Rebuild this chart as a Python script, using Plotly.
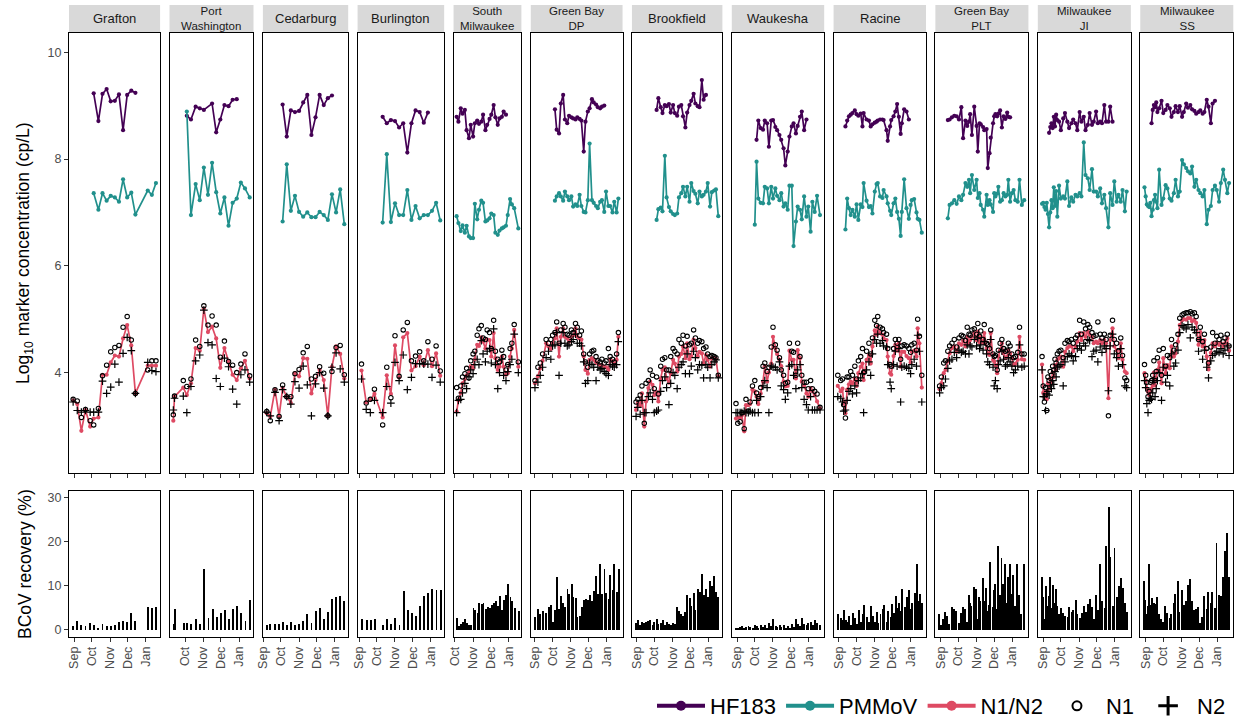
import pandas as pd
import plotly.graph_objects as go

# ---------------- data (days since 2020-09-01) ----------------
GRAFTON_DAY = [-2, 5, 12, 19, 27, 33, 41, 48, 55, 62, 69, 76, 83, 90, 97, 104, 125, 132, 139]
GRAFTON_N1N2 = [3.48, 3.41, 2.91, 3.30, 2.99, 3.14, 3.16, 3.96, 3.96, 4.19, 4.32, 4.30, 4.64, 4.89, 4.51, 3.61, 4.13, 4.13, 4.13]
GRAFTON_N1 = [3.50, 3.47, 3.16, 3.31, 3.10, 3.02, 3.33, 3.94, 4.14, 4.39, 4.47, 4.51, 4.85, 5.05, 4.61, 3.61, 4.05, 4.22, 4.22]
GRAFTON_N2 = [3.45, 3.29, 3.26, 3.29, 3.26, 3.26, 3.26, 3.84, 3.61, 3.73, 4.16, 3.82, 4.36, 4.66, 4.41, 3.61, 4.19, 4.04, 4.02]
GRAFTON_HF183 = [None, None, None, None, None, 9.23, 8.71, 9.22, 9.31, 9.08, 9.09, 9.21, 8.54, 9.20, 9.28, 9.24, None, None, None]
GRAFTON_PMMOV = [None, None, None, None, None, 7.36, 7.05, 7.36, 7.22, 7.31, 7.28, 7.20, 7.62, 7.28, 7.37, 6.96, 7.41, 7.33, 7.55]
GRAFTON_BCOV = [0.8, 2.0, 1.0, 0.9, 1.5, 1.1, 0.5, 1.3, 0.9, 0.9, 1.0, 1.7, 2.0, 1.7, 3.9, 2.0, 5.1, 4.9, 5.2]

PORTW_DAY = [10, 12, 27, 33, 40, 48, 55, 62, 69, 76, 83, 90, 97, 104, 111, 118, 125, 132, 140]
PORTW_N1N2 = [3.10, 3.55, 3.72, 3.58, 3.80, 4.46, 4.41, 5.20, 4.76, 4.86, 4.64, 4.09, 4.46, 4.21, 3.96, 3.86, 4.08, 4.22, 3.89]
PORTW_N1 = [3.21, 3.56, 3.85, 3.74, 3.88, 4.61, 4.49, 5.25, 4.89, 5.06, 4.89, 4.29, 4.59, 4.21, 4.14, 4.00, 4.16, 4.35, 3.94]
PORTW_N2 = [3.30, 3.52, 3.56, 3.25, 3.74, 4.22, 4.33, 5.17, 4.56, 4.52, 3.89, 3.74, 4.27, 4.11, 3.69, 3.41, 3.96, 4.05, 3.82]
PORTW_HF183 = [None, None, None, 8.81, 8.74, 8.98, 8.95, 8.92, None, 9.04, 8.50, 8.74, 9.01, 8.99, 9.11, 9.12, None, None, None]
PORTW_PMMOV = [None, None, None, 8.89, 6.95, 7.53, 7.23, 7.84, 7.33, 7.93, 7.38, 6.98, 7.28, 6.75, 7.18, 7.26, 7.56, 7.45, 7.28]
PORTW_BCOV = [1.4, 4.7, 1.6, 1.6, 1.4, 2.4, 1.4, 13.9, 2.7, 4.8, 3.0, 3.9, 4.6, 2.5, 4.8, 5.4, 3.9, 2.0, 6.7]

CEDAR_DAY = [6, 12, 20, 27, 33, 40, 47, 54, 61, 68, 75, 82, 89, 96, 103, 110, 117, 124, 131, 138]
CEDAR_N1N2 = [3.24, 3.18, 3.68, 3.18, 3.71, 3.55, 3.43, 3.99, 3.93, 4.27, 4.26, 3.61, 3.86, 4.05, 3.86, 3.19, 4.11, 4.49, 4.35, 3.89]
CEDAR_N1 = [3.27, 3.10, 3.68, 3.18, 3.77, 3.55, 3.55, 3.98, 4.06, 4.37, 4.49, 3.88, 3.93, 4.11, 3.99, 3.19, 4.02, 4.47, 4.51, 3.96]
CEDAR_N2 = [3.26, 3.19, 3.63, 3.10, 3.68, 3.55, 3.41, 3.83, 3.71, 4.12, 3.77, 3.19, 3.79, 4.00, 3.71, 3.19, 4.10, 4.37, 4.07, 3.82]
CEDAR_HF183 = [None, None, None, None, 9.02, 8.42, 8.91, 8.88, 8.90, 9.06, 9.20, 8.45, 8.78, 9.20, 9.01, 9.14, 9.19, None, None, None]
CEDAR_PMMOV = [None, None, None, None, 6.83, 7.90, 7.03, 7.31, 7.01, 6.92, 7.00, 6.91, 6.91, 7.01, 6.95, 6.86, 7.34, 7.00, 7.43, 6.78]
CEDAR_BCOV = [1.1, 1.3, 1.3, 1.3, 1.7, 1.1, 1.8, 1.1, 1.3, 2.0, 3.6, 1.5, 4.3, 4.9, 2.5, 4.0, 7.0, 7.5, 7.7, 6.6]

BURL_DAY = [4, 12, 19, 26, 40, 47, 54, 61, 68, 75, 82, 89, 96, 103, 110, 117, 124, 131, 138]
BURL_N1N2 = [4.04, 3.44, 3.49, 3.60, 3.16, 3.95, 3.60, 4.51, 3.91, 4.66, 4.74, 4.04, 4.12, 4.30, 4.14, 4.42, 4.12, 4.36, 3.94]
BURL_N1 = [4.16, 3.43, 3.50, 3.69, 3.02, 4.10, 3.53, 4.69, 3.93, 4.80, 4.94, 4.22, 4.31, 4.39, 4.22, 4.58, 4.25, 4.50, 4.03]
BURL_N2 = [3.88, 3.31, 3.25, 3.48, 3.25, 3.74, 3.43, 4.19, 3.85, 4.33, 3.68, 3.91, 4.17, 4.17, 4.16, 4.16, 3.91, 4.14, 3.82]
BURL_HF183 = [None, None, None, None, 8.79, 8.67, 8.73, 8.71, 8.59, 8.67, 8.12, 8.67, 8.91, 8.88, 8.68, 8.87, None, None, None]
BURL_PMMOV = [None, None, None, None, 6.81, 8.09, 6.82, 7.17, 6.95, 6.95, 7.42, 6.86, 7.12, 6.89, 6.95, 6.95, 7.03, 7.18, 6.85]
BURL_BCOV = [2.5, 2.2, 2.2, 2.5, 1.0, 2.5, 1.3, 2.7, 1.1, 8.9, 4.5, 3.9, 3.2, 5.5, 7.7, 8.3, 9.3, 9.0, 9.1]

SMKE_DAY = [33, 36, 40, 43, 47, 50, 54, 57, 61, 64, 68, 71, 75, 78, 82, 85, 89, 92, 96, 99, 103, 106, 110, 113, 117, 120, 124, 127, 131, 138]
SMKE_N1N2 = [3.27, 3.48, 3.62, 3.80, 3.88, 3.95, 4.00, 4.12, 4.08, 4.25, 4.52, 4.50, 4.66, 4.58, 4.45, 4.62, 4.61, 4.30, 4.74, 4.27, 4.05, 4.11, 4.30, 4.11, 3.96, 3.99, 4.30, 4.45, 4.80, 4.11]
SMKE_N1 = [3.72, 3.52, 3.75, 3.92, 3.98, 4.08, 3.90, 4.22, 4.35, 4.40, 4.70, 4.82, 4.88, 4.65, 4.62, 4.80, 4.75, 4.45, 4.98, 4.40, 4.25, 4.20, 4.42, 4.30, 4.05, 4.15, 4.45, 4.55, 4.90, 4.20]
SMKE_N2 = [3.25, 3.48, 3.50, 3.62, 3.80, 3.70, 3.92, 4.05, 3.98, 4.15, 4.25, 4.15, 4.60, 4.35, 4.20, 4.40, 4.45, 4.18, 4.82, 4.15, 3.70, 4.00, 4.25, 3.95, 3.85, 4.02, 4.15, 4.25, 4.72, 4.00]
SMKE_HF183 = [8.79, 8.70, 8.95, 8.85, 8.92, 8.54, 8.39, 8.64, 8.42, 8.67, 8.72, 8.66, 8.70, 8.83, 8.54, 8.64, 8.75, 8.83, 9.01, 8.78, 8.64, 8.76, 8.79, 8.89, 8.83, None, None, None, None, None]
SMKE_PMMOV = [6.93, 6.80, 6.65, 6.76, 6.62, 6.75, 6.55, 6.52, 6.52, 7.16, 6.87, 7.05, 7.22, 7.18, 6.83, 6.85, 6.89, 6.98, 6.95, 6.62, 6.58, 6.66, 6.70, 6.72, 6.75, 6.95, 7.25, 7.15, 7.08, 6.70]
SMKE_BCOV = [2.7, 0.8, 1.3, 1.9, 2.5, 1.5, 1.2, 1.0, 4.9, 4.5, 3.8, 6.0, 5.8, 6.0, 4.8, 5.2, 5.0, 5.6, 6.0, 6.6, 5.5, 7.7, 4.5, 6.8, 8.0, 10.3, 7.5, 6.6, 5.0, 4.2]

GBDP_DAY = [0, 5, 9, 13, 19, 23, 27, 30, 34, 37, 41, 44, 48, 51, 55, 58, 62, 65, 69, 72, 76, 79, 83, 86, 90, 93, 97, 100, 104, 107, 111, 114, 118, 121, 125, 128, 132, 135, 139, 142]
GBDP_N1N2 = [3.80, 3.93, 4.08, 4.22, 4.55, 4.49, 4.44, 4.55, 4.64, 4.83, 4.30, 4.67, 4.83, 4.67, 4.64, 4.58, 4.67, 4.70, 4.83, 4.67, 4.64, 4.62, 4.30, 4.05, 3.98, 4.24, 4.27, 4.24, 4.19, 4.17, 4.14, 4.14, 4.11, 4.10, 4.05, 4.25, 4.21, 4.16, 4.24, 4.67]
GBDP_N1 = [3.85, 4.10, 4.18, 4.35, 4.62, 4.55, 4.62, 4.70, 4.75, 4.95, 4.55, 4.80, 4.92, 4.85, 4.72, 4.70, 4.80, 4.75, 4.92, 4.85, 4.70, 4.78, 4.35, 4.20, 4.10, 4.35, 4.40, 4.42, 4.30, 4.22, 4.20, 4.25, 4.18, 4.22, 4.45, 4.30, 4.25, 4.20, 4.35, 4.75]
GBDP_N2 = [3.72, 3.82, 3.95, 4.10, 4.28, 4.40, 4.25, 4.50, 4.52, 4.75, 3.95, 4.55, 4.75, 4.55, 4.50, 4.52, 4.58, 4.62, 4.72, 4.55, 4.55, 4.50, 4.20, 3.80, 3.85, 4.18, 4.15, 4.10, 3.85, 4.10, 4.05, 4.08, 4.02, 3.98, 3.95, 4.15, 4.12, 4.10, 4.15, 4.58]
GBDP_HF183 = [None, None, None, None, None, None, None, None, 8.93, 8.55, 8.48, 9.04, 9.20, 8.74, 8.67, 8.81, 8.78, 8.76, 8.74, 8.78, 8.75, 8.72, 8.14, 8.70, 8.89, 8.95, 9.12, 9.06, 9.02, 8.97, 8.95, 8.98, 9.00, None, None, None, None, None, None, None]
GBDP_PMMOV = [None, None, None, None, None, None, None, None, 7.22, 7.30, 7.36, 7.30, 7.22, 7.39, 7.30, 7.23, 7.30, 7.11, 7.15, 7.12, 7.33, 7.12, 7.01, 7.00, 7.23, 8.29, 7.23, 7.18, 7.12, 7.08, 7.20, 7.23, 7.01, 7.39, 7.12, 7.12, 7.00, 7.20, 7.00, 7.26]
GBDP_BCOV = [3.0, 4.8, 3.6, 4.3, 3.8, 5.3, 5.6, 1.8, 4.6, 12.0, 4.8, 7.6, 6.2, 5.2, 9.3, 8.2, 10.5, 7.4, 7.2, 3.0, 3.2, 5.2, 6.8, 7.0, 6.8, 8.0, 6.6, 8.8, 12.3, 8.2, 15.0, 8.2, 13.8, 8.4, 7.0, 12.5, 9.0, 15.0, 8.5, 13.8]

BROOK_DAY = [-1, 2, 6, 9, 13, 16, 20, 23, 27, 30, 34, 37, 41, 44, 48, 51, 55, 58, 62, 65, 69, 72, 76, 79, 83, 86, 90, 93, 97, 100, 104, 107, 111, 114, 118, 121, 125, 128, 132, 135, 139]
BROOK_N1N2 = [3.30, 3.43, 3.39, 3.61, 2.99, 3.46, 3.71, 3.83, 3.77, 3.58, 3.63, 3.46, 3.89, 4.05, 4.10, 3.89, 3.81, 3.99, 4.24, 4.17, 4.02, 4.30, 4.35, 4.49, 4.27, 4.55, 4.25, 4.31, 4.62, 4.46, 4.30, 4.39, 4.36, 4.17, 4.33, 4.24, 4.11, 4.27, 4.27, 4.26, 3.93]
BROOK_N1 = [3.45, 3.50, 3.58, 3.75, 3.05, 3.80, 3.85, 4.05, 3.95, 3.70, 3.92, 3.60, 4.12, 4.25, 4.28, 4.05, 4.05, 4.30, 4.45, 4.40, 4.35, 4.62, 4.55, 4.70, 4.50, 4.68, 4.52, 4.55, 4.80, 4.65, 4.55, 4.60, 4.58, 4.45, 4.48, 4.35, 4.30, 4.32, 4.30, 4.28, 3.95]
BROOK_N2 = [3.18, 3.35, 3.22, 3.48, 3.25, 3.25, 3.55, 3.62, 3.50, 3.25, 3.28, 3.30, 3.65, 3.85, 3.92, 3.72, 3.40, 3.80, 4.00, 3.95, 3.70, 4.10, 4.15, 4.20, 3.98, 4.35, 3.98, 4.12, 4.40, 4.28, 4.05, 4.15, 4.14, 3.90, 4.15, 4.10, 3.90, 4.15, 4.20, 4.24, 3.90]
BROOK_HF183 = [None, None, None, None, None, None, None, None, None, None, 8.92, 9.14, 8.97, 8.86, 9.01, 8.99, 9.03, 8.87, 9.01, 8.86, 8.81, 8.98, 9.01, 8.80, 8.59, 8.87, 9.01, 9.09, 9.22, 9.04, 8.99, 8.97, 9.48, 9.11, 9.20, None, None, None, None, None, None]
BROOK_PMMOV = [None, None, None, None, None, None, None, None, None, None, 6.86, 7.06, 7.09, 7.02, 8.06, 7.28, 7.10, 7.02, 6.97, 6.95, 6.98, 7.28, 7.36, 7.48, 7.30, 7.48, 7.20, 7.55, 7.40, 7.35, 7.17, 7.39, 7.30, 7.33, 7.39, 7.55, 7.11, 7.38, 7.41, 7.43, 6.93]
BROOK_BCOV = [1.5, 2.2, 1.2, 1.8, 1.5, 1.7, 2.0, 2.3, 1.0, 1.9, 2.5, 1.3, 1.6, 2.2, 1.2, 1.7, 1.4, 1.2, 1.6, 1.3, 5.2, 4.2, 3.6, 3.2, 4.0, 8.0, 7.2, 5.4, 8.3, 4.6, 9.2, 8.6, 12.6, 8.0, 9.2, 7.5, 11.0, 10.0, 12.3, 8.5, 7.5]

WAUK_DAY = [-2, 1, 5, 8, 12, 15, 19, 22, 26, 30, 33, 36, 40, 44, 47, 51, 54, 58, 61, 65, 68, 72, 75, 79, 82, 86, 89, 93, 96, 100, 103, 107, 110, 114, 118, 121, 125, 128, 132, 136, 141]
WAUK_N1N2 = [3.14, 3.16, 3.15, 3.20, 2.90, 3.39, 3.39, 3.41, 3.68, 3.65, 3.55, 3.41, 3.61, 3.83, 4.12, 3.83, 4.00, 4.17, 4.67, 4.46, 4.35, 4.24, 4.12, 3.83, 3.74, 3.75, 4.41, 4.24, 4.24, 3.89, 4.42, 4.27, 3.83, 3.75, 3.61, 3.55, 3.71, 3.65, 3.58, 3.46, 3.33]
WAUK_N1 = [3.42, 3.05, 3.08, 3.25, 2.95, 3.50, 3.28, 3.45, 3.75, 3.85, 3.62, 3.55, 3.72, 4.12, 4.18, 4.02, 4.10, 4.48, 4.85, 4.52, 4.42, 4.28, 4.05, 3.95, 3.80, 3.82, 4.55, 4.40, 4.38, 3.95, 4.55, 4.30, 3.95, 3.82, 3.82, 3.70, 3.85, 3.70, 3.65, 3.60, 3.35]
WAUK_N2 = [3.25, 3.25, 3.25, 3.25, 3.28, 3.25, 3.25, 3.28, 3.25, 3.25, 3.48, 3.25, 3.55, 3.75, 3.85, 3.72, 3.25, 4.12, 4.10, 4.10, 4.05, 4.20, 3.75, 3.68, 3.50, 3.62, 4.12, 4.15, 3.95, 3.70, 4.05, 4.15, 3.72, 3.50, 3.40, 3.30, 3.55, 3.30, 3.30, 3.30, 3.30]
WAUK_HF183 = [None, None, None, None, None, None, None, None, None, None, 8.36, 8.72, 8.58, 8.55, 8.72, 8.67, 8.23, 8.72, 8.73, 8.60, 8.54, 8.45, 8.36, 8.20, 7.88, 8.14, 8.42, 8.61, 8.67, 8.48, 8.62, 8.79, 8.89, 8.54, 8.74, None, None, None, None, None, None]
WAUK_PMMOV = [None, None, None, None, None, None, None, None, None, 6.77, 7.95, 7.26, 7.18, 7.17, 7.48, 7.45, 7.17, 7.48, 7.26, 7.45, 7.31, 7.23, 7.36, 7.11, 7.17, 7.05, 7.50, 7.50, 6.37, 6.83, 7.11, 7.05, 6.87, 7.30, 6.92, 7.11, 6.64, 7.20, 7.01, 7.31, 6.95]
WAUK_BCOV = [0.3, 0.5, 0.6, 0.8, 0.5, 0.7, 0.9, 0.6, 0.5, 1.0, 0.8, 0.4, 1.0, 0.7, 1.2, 0.4, 1.5, 0.8, 2.4, 0.9, 0.6, 1.0, 0.7, 1.2, 0.3, 0.8, 0.5, 1.4, 0.6, 2.4, 1.3, 0.8, 2.8, 1.3, 1.0, 1.5, 1.7, 1.0, 2.3, 1.6, 1.2]

RACINE_DAY = [-2, 3, 6, 8, 11, 14, 17, 20, 23, 27, 30, 33, 37, 40, 42, 47, 51, 54, 57, 61, 64, 66, 70, 74, 76, 81, 83, 87, 89, 93, 96, 99, 102, 105, 107, 111, 115, 119, 122, 124, 128, 132, 134, 137, 141]
RACINE_N1N2 = [3.75, 3.65, 3.70, 3.44, 3.24, 3.68, 3.78, 3.83, 3.80, 3.89, 3.75, 3.99, 4.11, 4.17, 3.86, 4.24, 4.33, 4.17, 4.49, 4.79, 4.71, 4.86, 4.74, 4.71, 4.64, 4.61, 4.30, 3.99, 3.96, 4.31, 4.52, 4.41, 4.55, 4.11, 4.39, 4.39, 4.31, 4.27, 4.19, 4.39, 4.41, 4.30, 4.83, 4.55, 3.72]
RACINE_N1 = [3.95, 3.85, 3.88, 3.40, 3.15, 3.92, 3.92, 4.02, 3.95, 4.12, 3.88, 4.22, 4.30, 4.45, 4.00, 4.40, 4.55, 4.35, 4.65, 4.98, 4.88, 5.05, 4.85, 4.82, 4.75, 4.72, 4.45, 4.15, 4.12, 4.45, 4.62, 4.55, 4.62, 4.25, 4.50, 4.52, 4.50, 4.45, 4.38, 4.52, 4.55, 4.42, 5.00, 4.68, 3.95]
RACINE_N2 = [3.55, 3.52, 3.45, 3.28, 3.30, 3.48, 3.65, 3.70, 3.60, 3.75, 3.62, 3.85, 3.90, 3.98, 3.25, 4.05, 4.20, 3.95, 4.35, 4.62, 4.55, 4.72, 4.55, 4.60, 4.50, 4.48, 4.15, 3.82, 3.70, 4.15, 4.40, 4.12, 4.45, 3.45, 4.10, 4.12, 4.10, 4.08, 3.98, 4.15, 4.25, 4.12, 4.70, 4.40, 3.45]
RACINE_HF183 = [None, None, None, None, 8.61, 8.72, 8.80, 8.83, 8.86, 8.91, 8.84, 8.81, 8.85, 8.61, 8.86, 8.74, 8.72, 8.61, 8.65, 8.68, 8.70, 8.72, 8.74, 8.74, 8.73, 8.54, 8.34, 8.61, 8.73, 8.80, 8.89, 9.03, 8.79, 8.47, 8.67, 8.93, 8.89, 8.74, None, None, None, None, None, None, None]
RACINE_PMMOV = [None, None, None, None, 6.68, 7.26, 7.08, 6.95, 7.05, 6.92, 7.15, 6.86, 7.15, 7.10, 7.55, 7.22, 7.10, 7.12, 6.98, 7.39, 7.53, 7.55, 7.30, 7.27, 7.42, 7.30, 7.17, 7.03, 6.95, 7.17, 7.26, 7.01, 6.88, 6.56, 7.01, 7.62, 7.08, 6.88, 7.14, 7.23, 7.25, 7.00, 6.88, 6.86, 6.62]
RACINE_BCOV = [3.6, 2.8, 2.2, 4.5, 2.3, 1.8, 3.2, 1.2, 3.9, 2.6, 1.4, 4.4, 1.8, 3.5, 5.7, 3.0, 1.9, 5.5, 3.2, 1.8, 4.0, 1.5, 3.5, 4.8, 5.6, 1.7, 4.3, 3.0, 5.9, 3.8, 7.7, 5.0, 6.0, 4.2, 9.2, 5.3, 7.5, 9.0, 4.8, 6.1, 8.3, 15.0, 6.5, 8.2, 6.0]

GBPLT_DAY = [-2, 1, 5, 8, 12, 15, 19, 23, 27, 31, 35, 38, 42, 45, 48, 50, 53, 57, 61, 63, 66, 68, 72, 74, 78, 80, 83, 85, 89, 91, 93, 96, 98, 101, 104, 107, 110, 113, 115, 118, 121, 124, 127, 131, 134, 138, 142]
GBPLT_N1N2 = [3.69, 3.80, 3.99, 4.05, 4.21, 4.36, 4.46, 4.49, 4.39, 4.55, 4.52, 4.60, 4.49, 4.67, 4.55, 4.61, 4.67, 4.74, 4.61, 4.77, 4.57, 4.67, 4.55, 4.74, 4.46, 4.36, 4.33, 4.74, 4.24, 4.21, 4.14, 3.99, 4.30, 4.42, 4.55, 4.36, 4.27, 4.30, 4.42, 4.36, 4.27, 4.14, 4.17, 4.24, 4.67, 4.25, 4.24]
GBPLT_N1 = [3.75, 3.92, 4.18, 4.22, 4.40, 4.50, 4.55, 4.62, 4.48, 4.65, 4.70, 4.68, 4.60, 4.85, 4.72, 4.70, 4.80, 4.82, 4.72, 4.92, 4.68, 4.78, 4.62, 4.90, 4.55, 4.52, 4.45, 4.80, 4.35, 4.30, 4.32, 4.05, 4.42, 4.55, 4.62, 4.45, 4.40, 4.42, 4.55, 4.50, 4.35, 4.28, 4.30, 4.38, 4.85, 4.35, 4.35]
GBPLT_N2 = [3.62, 3.72, 3.75, 3.88, 4.08, 4.22, 4.25, 4.38, 4.28, 4.42, 4.38, 4.40, 4.35, 4.52, 4.35, 4.50, 4.48, 4.62, 4.50, 4.65, 4.45, 4.52, 4.42, 4.58, 4.35, 4.20, 4.15, 4.62, 4.10, 3.75, 3.85, 3.70, 4.15, 4.22, 4.40, 4.25, 4.12, 4.15, 4.28, 4.20, 4.12, 4.00, 4.05, 4.12, 4.52, 4.10, 4.12]
GBPLT_HF183 = [None, None, None, None, 8.73, 8.74, 8.78, 8.81, 8.80, 8.74, 8.97, 8.39, 8.72, 8.62, 8.70, 8.84, 8.45, 8.98, 8.62, 8.14, 8.67, 8.65, 8.60, 8.54, 8.56, 7.83, 8.11, 8.40, 8.67, 8.80, 8.84, 8.80, 8.85, 8.91, 8.59, 8.80, 8.75, 8.87, 8.79, 8.78, None, None, None, None, None, None, None]
GBPLT_PMMOV = [None, None, None, None, 6.89, 7.14, 7.17, 7.23, 7.16, 7.30, 7.23, 7.33, 7.55, 7.48, 7.61, 7.36, 7.70, 7.42, 7.61, 7.27, 7.36, 7.14, 7.05, 6.92, 7.33, 7.14, 7.23, 7.15, 7.01, 7.36, 7.30, 7.35, 7.48, 7.20, 7.23, 7.36, 7.30, 7.33, 7.61, 7.20, 7.36, 7.42, 7.23, 7.20, 7.61, 7.14, 7.23]
GBPLT_BCOV = [3.5, 1.0, 2.5, 4.0, 3.2, 1.3, 5.2, 4.8, 4.2, 1.5, 3.8, 5.2, 4.8, 1.8, 8.0, 6.0, 5.5, 9.8, 9.2, 2.5, 7.5, 6.5, 11.8, 6.5, 9.5, 4.2, 5.6, 15.5, 5.2, 9.0, 10.5, 4.8, 19.0, 8.0, 16.2, 10.4, 15.0, 6.0, 12.0, 15.0, 8.2, 12.5, 5.5, 15.0, 8.0, 3.5, 15.0]

MJI_DAY = [-2, 0, 2, 4, 6, 8, 10, 12, 14, 16, 18, 20, 22, 24, 27, 30, 34, 37, 41, 44, 48, 51, 55, 58, 62, 65, 69, 72, 76, 79, 83, 86, 90, 93, 97, 100, 104, 107, 111, 114, 118, 121, 125, 128, 132, 135, 139, 142]
MJI_N1N2 = [4.15, 3.62, 3.55, 3.64, 3.50, 3.80, 3.70, 3.89, 3.82, 4.00, 3.92, 4.14, 4.05, 4.24, 4.27, 4.30, 4.11, 4.39, 4.46, 4.49, 4.49, 4.40, 4.49, 4.58, 4.74, 4.61, 4.74, 4.67, 4.77, 4.71, 4.67, 4.55, 4.58, 4.55, 4.61, 4.55, 4.61, 4.55, 3.52, 4.61, 4.83, 4.49, 4.42, 4.27, 4.55, 4.24, 4.02, 3.99]
MJI_N1 = [4.30, 3.75, 3.45, 3.72, 3.29, 3.92, 3.85, 4.02, 3.95, 4.12, 4.05, 4.25, 4.18, 4.35, 4.40, 4.42, 4.28, 4.55, 4.60, 4.58, 4.62, 4.55, 4.65, 4.70, 4.98, 4.72, 4.95, 4.82, 4.90, 4.85, 4.75, 4.68, 4.70, 4.95, 4.72, 4.65, 4.72, 4.62, 3.19, 4.70, 4.98, 4.62, 4.55, 4.40, 4.65, 4.32, 3.90, 3.85]
MJI_N2 = [4.05, 3.55, 3.55, 3.29, 3.60, 3.65, 3.58, 3.75, 3.70, 3.85, 3.78, 4.02, 3.92, 4.10, 4.12, 4.15, 3.75, 4.20, 4.30, 4.35, 4.32, 4.22, 4.30, 4.45, 4.50, 4.42, 4.55, 4.50, 4.62, 4.60, 4.30, 4.40, 4.42, 4.20, 4.48, 4.38, 4.50, 4.45, 3.66, 4.50, 4.72, 4.35, 4.28, 4.12, 4.45, 4.15, 3.75, 3.72]
MJI_HF183 = [None, None, None, None, None, None, 8.49, 8.60, 8.67, 8.58, 8.79, 8.61, 8.83, 8.73, 8.70, 8.54, 8.76, 8.86, 8.70, 8.58, 8.67, 8.74, 8.67, 8.54, 8.88, 8.70, 8.79, 8.54, 8.64, 8.86, 8.64, 8.70, 8.89, 8.67, 8.70, 8.67, 9.01, 8.70, 8.70, 8.98, 8.70, None, None, None, None, None, None, None]
MJI_PMMOV = [7.16, 7.18, 7.10, 7.05, 7.18, 6.97, 6.72, 7.00, 7.23, 7.08, 7.47, 7.12, 7.40, 6.92, 7.50, 7.26, 7.30, 7.26, 7.58, 7.12, 7.28, 7.20, 7.33, 7.30, 7.36, 7.30, 8.31, 7.70, 7.64, 7.42, 7.81, 7.39, 7.39, 7.30, 7.45, 7.17, 7.33, 7.08, 6.72, 7.36, 7.14, 7.58, 7.20, 7.33, 7.20, 7.42, 7.02, 7.39]
MJI_BCOV = [12.0, 7.5, 2.5, 10.0, 5.5, 4.8, 7.8, 12.0, 5.0, 10.2, 6.0, 4.2, 9.2, 5.5, 3.5, 5.0, 3.8, 3.2, 3.0, 5.2, 4.0, 4.5, 6.8, 3.6, 2.8, 3.8, 5.5, 4.0, 5.8, 7.0, 5.2, 2.5, 8.0, 4.5, 15.0, 6.5, 5.0, 19.0, 27.8, 16.5, 5.5, 18.5, 7.5, 10.0, 11.8, 9.5, 6.0, 4.0]

MSS_DAY = [-2, 0, 2, 4, 6, 8, 10, 12, 14, 16, 18, 20, 23, 27, 30, 34, 37, 41, 44, 48, 51, 55, 58, 62, 65, 69, 72, 76, 79, 83, 86, 90, 93, 97, 100, 104, 107, 111, 114, 118, 121, 125, 128, 132, 135, 139, 142]
MSS_N1N2 = [3.99, 3.85, 3.70, 3.64, 3.58, 3.65, 3.70, 3.76, 4.00, 3.76, 3.90, 4.05, 4.19, 3.80, 4.27, 3.99, 4.14, 4.08, 4.49, 4.30, 4.36, 4.58, 4.89, 4.98, 5.00, 4.99, 5.02, 5.02, 4.96, 4.99, 4.93, 4.52, 4.76, 4.49, 4.61, 4.30, 4.06, 4.37, 4.55, 4.49, 4.56, 4.52, 4.55, 4.49, 4.55, 4.64, 4.41]
MSS_N1 = [4.15, 3.95, 3.82, 3.55, 3.65, 3.82, 3.85, 3.95, 4.22, 3.85, 4.02, 4.28, 4.42, 3.95, 4.45, 4.12, 4.32, 4.28, 4.62, 4.42, 4.52, 4.72, 5.02, 5.08, 5.10, 5.12, 5.12, 5.14, 5.10, 5.12, 5.05, 4.62, 4.85, 4.58, 4.72, 4.45, 4.18, 4.48, 4.75, 4.55, 4.68, 4.62, 4.70, 4.58, 4.65, 4.72, 4.50]
MSS_N2 = [3.85, 3.72, 3.42, 3.25, 3.48, 3.52, 3.50, 3.62, 3.85, 3.55, 3.70, 3.85, 4.00, 3.48, 4.10, 3.82, 3.95, 3.75, 4.35, 4.12, 4.18, 4.42, 4.75, 4.88, 4.85, 4.82, 4.90, 4.65, 4.85, 4.80, 4.75, 4.40, 4.62, 4.25, 4.42, 4.10, 3.90, 4.22, 4.32, 4.35, 4.40, 4.38, 4.45, 4.35, 4.42, 4.50, 4.32]
MSS_HF183 = [None, None, None, None, None, None, 8.67, 8.92, 9.01, 8.97, 9.06, 8.88, 8.95, 9.09, 8.86, 8.92, 9.01, 8.95, 8.79, 8.88, 8.99, 8.88, 8.99, 8.79, 8.88, 9.04, 8.96, 9.01, 8.93, 8.90, 8.85, 8.88, 8.91, 8.85, 8.88, 9.11, 8.98, 8.67, 9.04, 9.09, None, None, None, None, None, None, None]
MSS_PMMOV = [7.47, 7.30, 7.15, 7.12, 7.10, 7.18, 6.93, 7.05, 7.23, 7.33, 7.20, 7.08, 7.80, 7.14, 7.26, 7.51, 7.45, 7.26, 7.22, 7.36, 7.61, 7.30, 7.39, 7.98, 7.90, 7.83, 7.77, 7.73, 7.86, 7.48, 7.61, 7.42, 7.36, 7.30, 7.42, 6.78, 7.05, 7.12, 7.42, 7.50, 7.42, 7.20, 7.55, 7.80, 7.61, 7.36, 7.55]
MSS_BCOV = [11.0, 6.8, 3.5, 5.5, 15.0, 5.6, 3.8, 7.2, 6.0, 5.8, 4.5, 7.5, 3.5, 2.5, 1.8, 5.5, 3.8, 2.6, 3.5, 6.0, 8.2, 11.0, 4.0, 9.0, 5.6, 6.5, 10.2, 11.5, 6.5, 4.5, 4.8, 5.2, 1.5, 3.0, 7.8, 4.8, 8.5, 6.0, 8.5, 5.0, 19.8, 8.0, 7.8, 12.0, 18.0, 22.0, 12.0]

SITE_LABELS = ["Grafton", "Port<br>Washington", "Cedarburg", "Burlington", "South<br>Milwaukee",
               "Green Bay<br>DP", "Brookfield", "Waukesha", "Racine", "Green Bay<br>PLT",
               "Milwaukee<br>JI", "Milwaukee<br>SS"]
MONTH_TICKS = ["2020-09-01", "2020-10-01", "2020-11-01", "2020-12-01", "2021-01-01"]
MONTH_LABELS = ["Sep", "Oct", "Nov", "Dec", "Jan"]

SITES = [
    (GRAFTON_DAY, GRAFTON_N1N2, GRAFTON_N1, GRAFTON_N2, GRAFTON_HF183, GRAFTON_PMMOV, GRAFTON_BCOV),
    (PORTW_DAY, PORTW_N1N2, PORTW_N1, PORTW_N2, PORTW_HF183, PORTW_PMMOV, PORTW_BCOV),
    (CEDAR_DAY, CEDAR_N1N2, CEDAR_N1, CEDAR_N2, CEDAR_HF183, CEDAR_PMMOV, CEDAR_BCOV),
    (BURL_DAY, BURL_N1N2, BURL_N1, BURL_N2, BURL_HF183, BURL_PMMOV, BURL_BCOV),
    (SMKE_DAY, SMKE_N1N2, SMKE_N1, SMKE_N2, SMKE_HF183, SMKE_PMMOV, SMKE_BCOV),
    (GBDP_DAY, GBDP_N1N2, GBDP_N1, GBDP_N2, GBDP_HF183, GBDP_PMMOV, GBDP_BCOV),
    (BROOK_DAY, BROOK_N1N2, BROOK_N1, BROOK_N2, BROOK_HF183, BROOK_PMMOV, BROOK_BCOV),
    (WAUK_DAY, WAUK_N1N2, WAUK_N1, WAUK_N2, WAUK_HF183, WAUK_PMMOV, WAUK_BCOV),
    (RACINE_DAY, RACINE_N1N2, RACINE_N1, RACINE_N2, RACINE_HF183, RACINE_PMMOV, RACINE_BCOV),
    (GBPLT_DAY, GBPLT_N1N2, GBPLT_N1, GBPLT_N2, GBPLT_HF183, GBPLT_PMMOV, GBPLT_BCOV),
    (MJI_DAY, MJI_N1N2, MJI_N1, MJI_N2, MJI_HF183, MJI_PMMOV, MJI_BCOV),
    (MSS_DAY, MSS_N1N2, MSS_N1, MSS_N2, MSS_HF183, MSS_PMMOV, MSS_BCOV),
]

# ---------------- styling / layout ----------------
W, H = 1238, 723
BASE = pd.Timestamp("2020-09-01")
FONT = "Liberation Sans, Arial, Helvetica, sans-serif"
C_HF = "#440154"
C_PM = "#21908C"
C_N = "#DE4A63"
TICKGRAY = "#4D4D4D"
DAY_MS = 86400000


def to_dates(days):
    return [(BASE + pd.Timedelta(days=float(d))).strftime("%Y-%m-%d %H:%M:%S") for d in days]


def py(px):
    return 1 - px / H


TOP_DOM = [py(473), py(33)]
BOT_DOM = [py(636.5), py(491)]
STRIP = [py(33), py(5)]

left, right, gap = 69.0, 1233.3, 9.4
ranges = []
for s in SITES:
    lo, hi = min(s[0]), max(s[0])
    pad = 0.05 * (hi - lo)
    ranges.append((lo - pad, hi + pad))
scale = (right - left - gap * (len(SITES) - 1)) / sum(h - l for l, h in ranges)

fig = go.Figure()
layout = {}
shapes = []
annotations = []

x0 = left
for i, (s, (lo, hi)) in enumerate(zip(SITES, ranges)):
    day, n1n2, n1, n2, hf, pm, bc = s
    w = (hi - lo) * scale
    dom = [x0 / W, (x0 + w) / W]
    x0 += w + gap
    xr = to_dates([lo, hi])
    dates = to_dates(day)
    ti, bi = i + 1, i + 13
    xt, yt = f"x{ti}", f"y{ti}"
    xb, yb = f"x{bi}", f"y{bi}"
    axt = "" if ti == 1 else str(ti)

    common_x = dict(domain=dom, range=xr, type="date", showgrid=False, zeroline=False,
                    automargin=False,
                    showline=True, linecolor="black", linewidth=1.3, mirror=True,
                    ticks="outside", ticklen=4, tickwidth=1, tickcolor="#333333",
                    tickmode="array", tickvals=MONTH_TICKS, ticktext=MONTH_LABELS)
    layout[f"xaxis{axt}"] = dict(common_x, anchor=yt, showticklabels=False)
    layout[f"xaxis{bi}"] = dict(common_x, anchor=yb, showticklabels=True, tickangle=-90,
                                tickfont=dict(size=12.5, color=TICKGRAY, family=FONT))
    first = (i == 0)
    common_y = dict(showgrid=False, zeroline=False, automargin=False, showline=True,
                    linecolor="black", linewidth=1.3, mirror=True, tickmode="array",
                    ticks="outside" if first else "", ticklen=4, tickwidth=1,
                    tickcolor="#333333", showticklabels=first,
                    tickfont=dict(size=12.5, color=TICKGRAY, family=FONT))
    layout[f"yaxis{axt}"] = dict(common_y, domain=TOP_DOM, anchor=xt, range=[2.12, 10.36],
                                 tickvals=[4, 6, 8, 10])
    layout[f"yaxis{bi}"] = dict(common_y, domain=BOT_DOM, anchor=xb, range=[-1.5, 31.5],
                                tickvals=[0, 10, 20, 30])

    # concentration series
    for vals, col in ((hf, C_HF), (pm, C_PM), (n1n2, C_N)):
        fig.add_trace(go.Scatter(x=dates, y=vals, xaxis=xt, yaxis=yt, mode="lines+markers",
                                 connectgaps=True, showlegend=False,
                                 line=dict(color=col, width=1.7),
                                 marker=dict(color=col, size=4.2)))
    fig.add_trace(go.Scatter(x=dates, y=n1, xaxis=xt, yaxis=yt, mode="markers", showlegend=False,
                             marker=dict(symbol="circle-open", size=4.4, color="black",
                                         line=dict(width=1.1, color="black"))))
    fig.add_trace(go.Scatter(x=dates, y=n2, xaxis=xt, yaxis=yt, mode="markers", showlegend=False,
                             marker=dict(symbol="cross-thin-open", size=5.5, color="black",
                                         line=dict(width=1.2, color="black"))))
    # BCoV recovery bars
    fig.add_trace(go.Bar(x=dates, y=bc, xaxis=xb, yaxis=yb, showlegend=False,
                         width=[1.6 * DAY_MS] * len(dates),
                         marker=dict(color="black", line=dict(width=0))))

    # facet strip
    shapes.append(dict(type="rect", xref="paper", yref="paper", x0=dom[0], x1=dom[1],
                       y0=STRIP[0], y1=STRIP[1], fillcolor="#D9D9D9", line=dict(width=0),
                       layer="below"))
    two = "<br>" in SITE_LABELS[i]
    annotations.append(dict(xref="paper", yref="paper", x=(dom[0] + dom[1]) / 2,
                            y=(STRIP[0] + STRIP[1]) / 2, text=SITE_LABELS[i], showarrow=False,
                            xanchor="center", yanchor="middle",
                            font=dict(size=11.5 if two else 13, color="#1A1A1A", family=FONT)))

# axis titles
annotations.append(dict(xref="paper", yref="paper", x=25 / W, y=py(253), textangle=-90,
                        text="Log<sub>10</sub> marker concentration (cp/L)", showarrow=False,
                        xanchor="center", yanchor="middle",
                        font=dict(size=17.5, color="black", family=FONT)))
annotations.append(dict(xref="paper", yref="paper", x=25 / W, y=py(564), textangle=-90,
                        text="BCoV recovery (%)", showarrow=False,
                        xanchor="center", yanchor="middle",
                        font=dict(size=17.5, color="black", family=FONT)))

# legend-only traces
LEG = [("HF183", C_HF), ("PMMoV", C_PM), ("N1/N2", C_N)]
for name, col in LEG:
    fig.add_trace(go.Scatter(x=[None], y=[None], xaxis="x", yaxis="y", mode="lines+markers",
                             name=name, line=dict(color=col, width=4),
                             marker=dict(color=col, size=10)))
fig.add_trace(go.Scatter(x=[None], y=[None], xaxis="x", yaxis="y", mode="markers", name="N1",
                         marker=dict(symbol="circle-open", size=9, color="black",
                                     line=dict(width=2, color="black"))))
fig.add_trace(go.Scatter(x=[None], y=[None], xaxis="x", yaxis="y", mode="markers", name="N2",
                         marker=dict(symbol="cross-thin-open", size=14, color="black",
                                     line=dict(width=3, color="black"))))

fig.update_layout(**layout)
fig.update_layout(
    template="none",
    width=W, height=H, margin=dict(l=0, r=0, t=0, b=0, autoexpand=False),
    paper_bgcolor="white", plot_bgcolor="white",
    font=dict(family=FONT, color="black"),
    shapes=shapes, annotations=annotations,
    showlegend=True,
    legend=dict(orientation="h", x=1231 / W, xanchor="right", y=py(706), yanchor="middle",
                font=dict(size=22, family=FONT, color="black"), itemwidth=48,
                bgcolor="rgba(0,0,0,0)", tracegroupgap=0),
    bargap=0,
)
fig.write_html(
    "out.html",
    config={"displayModeBar": False},
    post_script="document.body.style.margin='0';document.body.style.padding='0';"
                "document.body.style.overflow='hidden';",
)
